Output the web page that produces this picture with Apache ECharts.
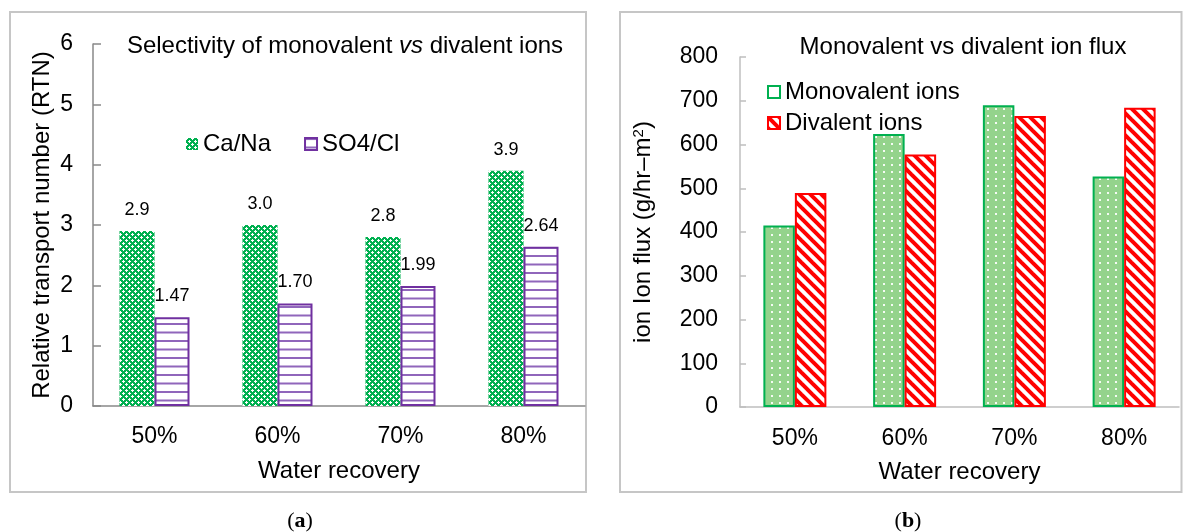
<!DOCTYPE html>
<html>
<head>
<meta charset="utf-8">
<title>Water recovery: selectivity and ion flux</title>
<script src="https://cdn.jsdelivr.net/npm/echarts@6/dist/echarts.min.js"></script>
<style>
  html, body { margin: 0; padding: 0; background: #ffffff; }
  #chart { width: 1183px; height: 532px; }
</style>
</head>
<body>
<div id="chart"></div>
<script>
// ---- data ----
const recoveryLevels = ['50%', '60%', '70%', '80%'];

// (a) relative transport number
const caNaRatio = [2.9, 3.0, 2.8, 3.9];
const so4ClRatio = [1.47, 1.70, 1.99, 2.64];
const rtnAxis = [0, 6, 1];          // min, max, step

// (b) ion flux, g/hr-m2
const monovalentFlux = [415, 624, 690, 527];
const divalentFlux = [489, 577, 665, 684];
const fluxAxis = [0, 800, 100];     // min, max, step

// ---- hatch / dot fills ----
function tile(w, h, draw) {
  const c = document.createElement('canvas');
  c.width = w; c.height = h;
  draw(c.getContext('2d'), w, h);
  return { image: c, repeat: 'repeat' };
}

const caNaFill = tile(6, 6, (g, w, h) => {
  g.fillStyle = '#00b050'; g.fillRect(0, 0, w, h);
  g.fillStyle = '#ffffff';
  [[0, 0], [3, 3]].forEach(([cx, cy]) => {
    [[0, 0], [1, 0], [-1, 0], [0, 1], [0, -1]].forEach(([dx, dy]) => {
      g.fillRect((cx + dx + w) % w, (cy + dy + h) % h, 1, 1);
    });
  });
});

const so4ClFill = tile(4, 17, (g, w, h) => {
  g.fillStyle = '#ffffff'; g.fillRect(0, 0, w, h);
  g.fillStyle = '#9066bb';
  g.fillRect(0, 0, w, 2);
  g.fillRect(0, 8.5, w, 2);
});

const monoFill = tile(8, 7, (g, w, h) => {
  g.fillStyle = '#94d38c'; g.fillRect(0, 0, w, h);
  g.fillStyle = 'rgba(255,255,255,0.9)';
  g.fillRect(3, 3, 2, 2);
});

const diFill = tile(11, 11, (g, w, h) => {
  g.fillStyle = '#ffffff'; g.fillRect(0, 0, w, h);
  g.strokeStyle = '#ff0000'; g.lineWidth = 4;
  [-w, 0, w].forEach(o => {
    g.beginPath(); g.moveTo(o - 2, -2); g.lineTo(o + w + 2, h + 2); g.stroke();
  });
});

const FONT = '"Liberation Sans", Arial, sans-serif';
const SERIF = '"Liberation Serif", serif';
const INK = '#000000';

const chart = echarts.init(document.getElementById('chart'));

chart.setOption({
  animation: false,
  backgroundColor: '#ffffff',
  textStyle: { fontFamily: FONT, color: INK },
  title: [
    {
      text: 'Selectivity of monovalent {i|vs} divalent ions',
      left: 340, top: 29, textAlign: 'center',
      textStyle: { fontSize: 24, fontWeight: 'normal', color: INK, fontFamily: FONT,
        rich: { i: { fontStyle: 'italic', fontSize: 24, color: INK, fontFamily: FONT } } }
    },
    {
      text: 'Monovalent vs divalent ion flux',
      left: 958, top: 30, textAlign: 'center',
      textStyle: { fontSize: 24, fontWeight: 'normal', color: INK, fontFamily: FONT }
    }
  ],
  legend: [
    {
      data: ['Ca/Na', 'SO4/Cl'],
      left: 186, top: 132, padding: 0,
      itemWidth: 12, itemHeight: 12, itemGap: 33, icon: 'rect',
      textStyle: { fontSize: 24, color: INK, fontFamily: FONT }
    },
    {
      data: [
        { name: 'Monovalent ions', itemStyle: { color: '#ffffff', borderColor: '#00b050', borderWidth: 2 } },
        { name: 'Divalent ions' }
      ],
      orient: 'vertical',
      left: 767, top: 80, padding: 0,
      itemWidth: 12, itemHeight: 12, itemGap: 7, icon: 'rect',
      textStyle: { fontSize: 24, color: INK, fontFamily: FONT }
    }
  ],
  grid: [
    { left: 93, top: 44, width: 492, height: 362 },
    { left: 740, top: 57, width: 439, height: 350 }
  ],
  xAxis: [
    {
      gridIndex: 0, type: 'category', data: recoveryLevels,
      axisLine: { lineStyle: { color: '#898989', width: 1.5 } },
      axisTick: { show: false },
      axisLabel: { fontSize: 23, color: INK, margin: 19, fontFamily: FONT },
      name: 'Water recovery', nameLocation: 'middle', nameGap: 53,
      nameTextStyle: { fontSize: 24, color: INK, fontFamily: FONT }
    },
    {
      gridIndex: 1, type: 'category', data: recoveryLevels,
      axisLine: { lineStyle: { color: '#bfbfbf', width: 1.5 } },
      axisTick: { show: false },
      axisLabel: { fontSize: 23, color: INK, margin: 20, fontFamily: FONT },
      name: 'Water recovery', nameLocation: 'middle', nameGap: 53,
      nameTextStyle: { fontSize: 24, color: INK, fontFamily: FONT }
    }
  ],
  yAxis: [
    {
      gridIndex: 0, type: 'value',
      min: rtnAxis[0], max: rtnAxis[1], interval: rtnAxis[2],
      axisLine: { show: true, lineStyle: { color: '#898989', width: 1.5 } },
      axisTick: { show: true, inside: true, length: 8, lineStyle: { color: '#898989', width: 1.5 } },
      splitLine: { show: false },
      axisLabel: { fontSize: 23, color: INK, margin: 20, fontFamily: FONT },
      name: 'Relative transport number (RTN)', nameLocation: 'middle', nameGap: 39,
      nameTextStyle: { fontSize: 24, color: INK, fontFamily: FONT }
    },
    {
      gridIndex: 1, type: 'value',
      min: fluxAxis[0], max: fluxAxis[1], interval: fluxAxis[2],
      axisLine: { show: true, lineStyle: { color: '#bfbfbf', width: 1.5 } },
      axisTick: { show: true, inside: true, length: 6, lineStyle: { color: '#bfbfbf', width: 1.5 } },
      splitLine: { show: false },
      axisLabel: { fontSize: 23, color: INK, margin: 22, fontFamily: FONT },
      name: 'ion Ion flux (g/hr–m{sup|2})', nameLocation: 'middle', nameGap: 84,
      nameTextStyle: { fontSize: 24, color: INK, fontFamily: FONT,
        rich: { sup: { fontSize: 15, color: INK, fontFamily: FONT, padding: [0, 0, 10, 0] } } }
    }
  ],
  series: [
    {
      name: 'Ca/Na', type: 'bar', xAxisIndex: 0, yAxisIndex: 0,
      data: caNaRatio, barWidth: 35, barGap: '0%',
      itemStyle: { color: caNaFill },
      label: { show: true, position: 'top', distance: 12, fontSize: 18, color: INK, fontFamily: FONT,
        formatter: p => p.value.toFixed(1) }
    },
    {
      name: 'SO4/Cl', type: 'bar', xAxisIndex: 0, yAxisIndex: 0,
      data: so4ClRatio, barWidth: 35, barGap: '0%',
      itemStyle: { color: so4ClFill, borderColor: '#7030a0', borderWidth: 2 },
      label: { show: true, position: 'top', distance: 12, fontSize: 18, color: INK, fontFamily: FONT,
        formatter: p => p.value.toFixed(2) }
    },
    {
      name: 'Monovalent ions', type: 'bar', xAxisIndex: 1, yAxisIndex: 1,
      data: monovalentFlux, barWidth: 31.5, barGap: '0%',
      itemStyle: { color: monoFill, borderColor: '#00b050', borderWidth: 2 }
    },
    {
      name: 'Divalent ions', type: 'bar', xAxisIndex: 1, yAxisIndex: 1,
      data: divalentFlux, barWidth: 31.5, barGap: '0%',
      itemStyle: { color: diFill, borderColor: '#ff0000', borderWidth: 2 }
    }
  ],
  graphic: [
    { type: 'rect', z: -10, silent: true,
      shape: { x: 10, y: 12, width: 576, height: 480 },
      style: { fill: 'none', stroke: '#c6c6c6', lineWidth: 2 } },
    { type: 'rect', z: -10, silent: true,
      shape: { x: 620, y: 12, width: 561.5, height: 480 },
      style: { fill: 'none', stroke: '#c6c6c6', lineWidth: 2 } },
    { type: 'text', silent: true, x: 300, y: 521,
      style: { text: '({b|a})', align: 'center', verticalAlign: 'middle',
        font: '22px ' + SERIF, fill: INK,
        rich: { b: { fontWeight: 'bold', fontSize: 22, fontFamily: SERIF, fill: INK } } } },
    { type: 'text', silent: true, x: 908, y: 521,
      style: { text: '({b|b})', align: 'center', verticalAlign: 'middle',
        font: '22px ' + SERIF, fill: INK,
        rich: { b: { fontWeight: 'bold', fontSize: 22, fontFamily: SERIF, fill: INK } } } }
  ]
});
</script>
</body>
</html>
